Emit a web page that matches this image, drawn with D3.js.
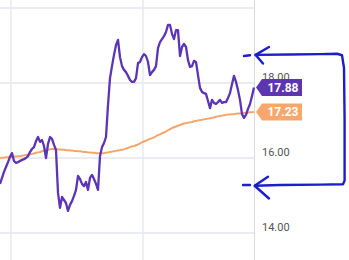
<!DOCTYPE html>
<html><head><meta charset="utf-8">
<script src="https://cdn.jsdelivr.net/npm/d3@7"></script>
<style>html,body{margin:0;padding:0;background:#fff;}svg{display:block;}</style>
</head><body>
<svg id="c" width="349" height="260"></svg>
<script>
// Close price (purple) per session
const closePrices = [15.31,15.47,15.63,15.76,15.89,16.03,16.13,15.92,15.87,15.89,
15.92,15.95,15.97,16.00,16.05,16.16,16.24,16.29,16.45,16.56,
16.43,16.48,16.32,16.00,16.37,16.56,16.51,16.35,16.21,15.07,
14.67,14.96,14.88,14.80,14.59,14.75,14.85,14.99,15.15,15.52,
15.44,15.31,15.25,15.36,15.15,15.47,15.55,15.44,15.31,15.15,
16.05,16.29,16.40,16.56,17.41,18.13,18.45,18.75,19.01,19.15,
18.69,18.45,18.35,18.29,18.19,18.08,18.03,18.03,18.13,18.53,
18.56,18.69,18.77,18.72,18.56,18.21,18.29,18.35,18.45,18.93,
19.09,19.17,19.25,19.36,19.55,19.55,19.31,19.17,19.41,19.41,
18.72,18.96,19.04,18.96,18.61,18.43,18.45,18.59,18.56,18.21,
17.87,17.76,17.73,17.71,17.52,17.33,17.55,17.47,17.44,17.49,
17.55,17.47,17.49,17.49,17.60,17.73,17.97,18.19,18.03,17.81,
17.55,17.17,17.07,17.15,17.31,17.44,17.65,17.88];
// Moving average (orange)
const movingAvg = [16.00,16.01,16.01,16.02,16.02,16.03,16.03,16.04,16.04,16.05,
16.05,16.06,16.07,16.08,16.09,16.10,16.11,16.12,16.14,16.15,
16.16,16.18,16.20,16.21,16.22,16.23,16.24,16.24,16.24,16.23,
16.23,16.22,16.22,16.21,16.21,16.20,16.20,16.19,16.19,16.18,
16.18,16.17,16.16,16.16,16.15,16.15,16.14,16.14,16.13,16.13,
16.13,16.13,16.13,16.14,16.15,16.16,16.17,16.18,16.19,16.20,
16.21,16.22,16.23,16.25,16.27,16.29,16.31,16.32,16.34,16.36,
16.39,16.42,16.44,16.46,16.49,16.51,16.53,16.55,16.58,16.61,
16.63,16.66,16.68,16.71,16.74,16.77,16.80,16.82,16.84,16.86,
16.88,16.90,16.92,16.93,16.94,16.95,16.96,16.98,16.99,17.00,
17.01,17.02,17.03,17.04,17.05,17.06,17.07,17.08,17.10,17.11,
17.12,17.13,17.14,17.15,17.16,17.16,17.17,17.17,17.18,17.19,
17.19,17.20,17.20,17.21,17.21,17.22,17.22,17.23];
const gridTicks = [14, 16, 18, 20];
const labelTicks = [14, 16, 18];
const timeGridIdx = [5.5, 71.5];
// hand-drawn annotation (index, price) in chart data space
const annoTop = [[122,18.72],[125,18.74]];
const annoBottom = [[121.5,15.28],[125,15.28]];
const annoBracket = [[127.8,18.75],[145,18.76],[160,18.77],[168.5,18.78],[171,18.74],[172,18.4],[172.3,17],[172.3,16],[172.3,15.4],[171.5,15.3],[160,15.29],[140,15.28],[127.6,15.26]];
const arrowTopHead = [[134.5,18.96],[127.8,18.75],[131.5,18.52]];
const arrowBotHead = [[134,15.5],[127.3,15.26],[134.5,14.92]];

const svg = d3.select('#c');
const W = 349, H = 260, axisX = 254;
const x = d3.scaleLinear().domain([0, closePrices.length - 1]).range([0, axisX]);
const y = d3.scaleLinear().domain([14, 20]).range([233, 8]);

// grid
svg.append('g').selectAll('line').data(gridTicks).join('line')
  .attr('x1', 0).attr('x2', axisX).attr('y1', d => y(d)).attr('y2', d => y(d))
  .attr('stroke', '#e3e6ec').attr('stroke-width', 1.5);
svg.append('g').selectAll('line').data(timeGridIdx).join('line')
  .attr('x1', d => x(d)).attr('x2', d => x(d)).attr('y1', 0).attr('y2', H)
  .attr('stroke', '#e8eaee').attr('stroke-width', 1.5);
svg.append('line').attr('x1', axisX + 0.5).attr('x2', axisX + 0.5).attr('y1', 0).attr('y2', H)
  .attr('stroke', '#d6d8dc').attr('stroke-width', 1);

// axis labels
svg.append('g').selectAll('text').data(labelTicks).join('text')
  .attr('x', axisX + 8).attr('y', d => y(d) - 2.5)
  .attr('font-family', 'Roboto, Arial, sans-serif').attr('font-size', 11)
  .attr('fill', '#555').text(d => d.toFixed(2));

const line = d3.line().x((d, i) => x(i)).y(d => y(d));
svg.append('path').datum(movingAvg).attr('d', line).attr('fill', 'none')
  .attr('stroke', '#f5a46a').attr('stroke-width', 2).attr('stroke-linejoin', 'round');
svg.append('path').datum(closePrices).attr('d', line).attr('fill', 'none')
  .attr('stroke', '#5b35b5').attr('stroke-width', 2.3).attr('stroke-linejoin', 'round');

// price tags
function tag(val, color) {
  const cy = y(val), x0 = axisX + 2, xb = axisX + 8, x1 = axisX + 48, h = 8.5;
  svg.append('path').attr('d', `M${x0},${cy} L${xb},${cy - h} L${x1},${cy - h} L${x1},${cy + h} L${xb},${cy + h} Z`)
    .attr('fill', color);
  svg.append('text').attr('x', (xb + x1) / 2 + 1).attr('y', cy + 4.3).attr('text-anchor', 'middle')
    .attr('font-family', 'Roboto, Arial, sans-serif').attr('font-size', 12).attr('font-weight', 'bold')
    .attr('fill', '#fff').text(val.toFixed(2));
}
tag(closePrices[closePrices.length - 1], '#5e35b1');
tag(movingAvg[movingAvg.length - 1], '#f7a76c');

// annotation (blue pen)
const pen = d3.line().x(d => x(d[0])).y(d => y(d[1])).curve(d3.curveLinear);
[annoTop, annoBottom, annoBracket, arrowTopHead, arrowBotHead].forEach(p => {
  svg.append('path').attr('d', pen(p)).attr('fill', 'none').attr('stroke', '#1c1fc9')
    .attr('stroke-width', 2.4).attr('stroke-linecap', 'round').attr('stroke-linejoin', 'round');
});
</script>
</body></html>
